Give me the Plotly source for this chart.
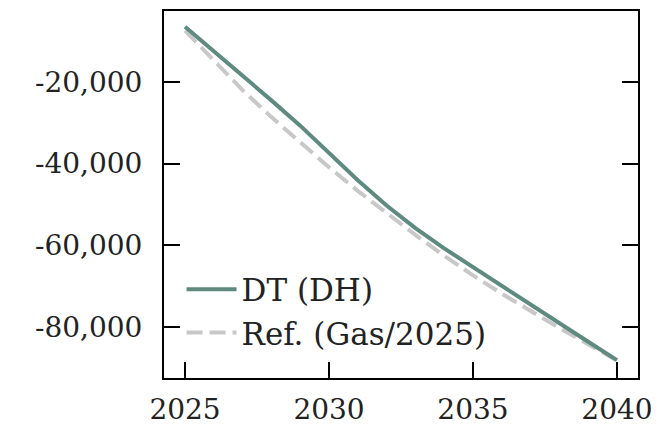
import plotly.graph_objects as go

years = list(range(2025, 2041))
dt_dh = [-6450, -12400, -18350, -24500, -30700, -37500, -44100, -50300,
         -55800, -60800, -65400, -70100, -74700, -79200, -83700, -88200]
ref_gas = [-7400, -14700, -22000, -28600, -34900, -40900, -46700, -52200,
           -57500, -62600, -67400, -71900, -76200, -80300, -84300, -88300]

y_tickvals = [-20000, -40000, -60000, -80000]
y_ticktext = ["-20,000", "-40,000", "-60,000", "-80,000"]
x_tickvals = [2025, 2030, 2035, 2040]

FONT = "DejaVu Serif"

fig = go.Figure()
fig.add_trace(go.Scatter(x=years, y=ref_gas, mode="lines", name="Ref. (Gas/2025)",
                         line=dict(color="#c8c8c8", width=4, dash="16px,7px")))
fig.add_trace(go.Scatter(x=years, y=dt_dh, mode="lines", name="DT (DH)",
                         line=dict(color="#5f8a80", width=4)))

fig.update_layout(
    width=651, height=419,
    margin=dict(l=156, r=21, t=1, b=47),
    paper_bgcolor="white", plot_bgcolor="white",
    font=dict(family=FONT, size=28, color="#222222"),
    showlegend=True,
    legend=dict(x=0.037, y=0.05, xanchor="left", yanchor="bottom",
                bgcolor="rgba(0,0,0,0)", traceorder="reversed",
                font=dict(family=FONT, size=31), tracegroupgap=0,
                itemwidth=50),
)
fig.update_xaxes(range=[2024.27, 2040.73], tickvals=x_tickvals,
                 ticks="inside", ticklen=16, tickwidth=2, tickcolor="black",
                 ticklabelstandoff=5,
                 showline=True, linecolor="black", linewidth=2, mirror=True,
                 showgrid=False, zeroline=False)
fig.update_yaxes(range=[-92576, -2588], tickvals=y_tickvals, ticktext=y_ticktext,
                 ticks="inside", ticklen=16, tickwidth=2, tickcolor="black",
                 ticklabelstandoff=14,
                 showline=True, linecolor="black", linewidth=2, mirror="ticks",
                 showgrid=False, zeroline=False)

fig.write_html("out.html")
